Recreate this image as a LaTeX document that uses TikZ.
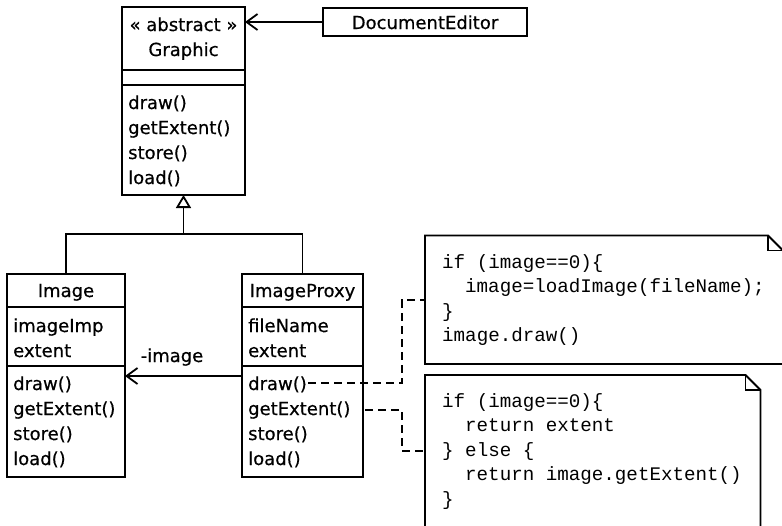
\documentclass[tikz,border=0pt]{standalone}
\usepackage{fontspec}
\setmainfont{DejaVu Sans}[FakeBold=0.6]
\newfontfamily\codefont{Liberation Mono}
\usetikzlibrary{arrows.meta}

% one line of text inside a class box
\newcommand{\classline}[4]{\node[txt] (#1) at (#2,#3) {#4};}
\newcommand{\codeline}[4]{\node[code] (#1) at (#2,#3) {#4};}

\begin{document}
\begin{tikzpicture}[x=1pt,y=-1pt,
  box/.style={draw, line width=1.8pt, rectangle, inner sep=0pt, outer sep=0pt, anchor=north west},
  sep/.style={line width=1.8pt},
  txt/.style={inner sep=0pt, font=\fontsize{18}{25}\selectfont, anchor=base west},
  ctxt/.style={txt, anchor=base},
  code/.style={inner sep=0pt, font=\codefont\fontsize{19.2}{24}\selectfont, anchor=base west},
  notebox/.style={inner sep=0pt, outer sep=0pt, anchor=north west},
  noteline/.style={line width=1.8pt, line join=miter},
  assoc/.style={line width=1.8pt, -{Straight Barb[length=11pt, width=16pt, line width=1.8pt]}},
  inherit/.style={line width=1.8pt, -{Triangle[open, length=13pt, width=15pt, line width=1.8pt]}},
  dashlink/.style={line width=1.8pt, dash pattern=on 8pt off 5pt}
]
\useasboundingbox (0,0) rectangle (782,525);
\clip (0,0) rectangle (782,525);

% ---- class boxes ----
\node[box, minimum width=123pt, minimum height=188pt] (graphic) at (122,7) {};
\node[box, minimum width=204pt, minimum height=28pt] (doced) at (323,8) {};
\node[box, minimum width=118pt, minimum height=203pt] (image) at (7,274) {};
\node[box, minimum width=121pt, minimum height=203pt] (proxy) at (242,274) {};

% compartments
\draw[sep] ([yshift=-63pt]graphic.north west) -- ([yshift=-63pt]graphic.north east);
\draw[sep] ([yshift=-78pt]graphic.north west) -- ([yshift=-78pt]graphic.north east);
\draw[sep] ([yshift=-33pt]image.north west) -- ([yshift=-33pt]image.north east);
\draw[sep] ([yshift=-92pt]image.north west) -- ([yshift=-92pt]image.north east);
\draw[sep] ([yshift=-33pt]proxy.north west) -- ([yshift=-33pt]proxy.north east);
\draw[sep] ([yshift=-92pt]proxy.north west) -- ([yshift=-92pt]proxy.north east);

% Graphic
\node[ctxt] (gstereo) at (183.5,31) {« abstract »};
\node[ctxt] (gname) at (183.5,56) {Graphic};
\classline{gdraw}{128}{109}{draw()}
\classline{gext}{128}{134}{getExtent()}
\classline{gstore}{128}{159}{store()}
\classline{gload}{128}{184}{load()}

% DocumentEditor
\node[ctxt] (dname) at (425,29) {DocumentEditor};

% Image
\node[ctxt] (iname) at (66,297) {Image};
\classline{iimp}{13}{332}{imageImp}
\classline{iext}{13}{357}{extent}
\classline{idraw}{13}{390}{draw()}
\classline{iget}{13}{415}{getExtent()}
\classline{istore}{13}{440}{store()}
\classline{iload}{13}{465}{load()}

% ImageProxy
\node[ctxt] (pname) at (302.5,297) {ImageProxy};
\classline{pfile}{248}{332}{fileName}
\classline{pext}{248}{357}{extent}
\classline{pdraw}{248}{390}{draw()}
\classline{pget}{248}{415}{getExtent()}
\classline{pstore}{248}{440}{store()}
\classline{pload}{248}{465}{load()}

% ---- notes ----
\node[notebox, minimum width=358pt, minimum height=128.5pt] (note1) at (425,235.5) {};
\node[notebox, minimum width=335.5pt, minimum height=170pt] (note2) at (425,375) {};
\foreach \n in {note1,note2}{
  \draw[noteline] (\n.north west) -- ([xshift=-15pt]\n.north east)
    -- ([yshift=-15pt]\n.north east) -- (\n.south east) -- (\n.south west) -- cycle;
  \draw[noteline] ([xshift=-15pt]\n.north east) -- ([xshift=-15pt,yshift=-15pt]\n.north east)
    -- ([yshift=-15pt]\n.north east);
}

\codeline{a1}{442}{268}{if (image==0)\{}
\codeline{a2}{465}{292.5}{image=loadImage(fileName);}
\codeline{a3}{442}{317}{\}}
\codeline{a4}{442}{341.5}{image.draw()}

\codeline{b1}{442}{407}{if (image==0)\{}
\codeline{b2}{465}{431.5}{return extent}
\codeline{b3}{442}{456}{\} else \{}
\codeline{b4}{465}{480.5}{return image.getExtent()}
\codeline{b5}{442}{505}{\}}

% ---- connectors ----
\draw[assoc] (doced.west) -- (graphic.east |- doced.west);

\coordinate (junc) at (graphic.south |- 0,234);
\draw[sep] (image.north) |- (junc);
\draw[sep] (proxy.north) |- (junc);
\draw[inherit] (junc) -- (graphic.south);

\coordinate (aline) at (0,376);
\draw[assoc] (proxy.west |- aline) -- (image.east |- aline);
\node[ctxt] (role) at (172,362) {-image};

\coordinate (k1) at (402,300);
\coordinate (k2) at (402,451);
\coordinate (d1) at (0,383);
\draw[dashlink] ([xshift=1pt]pdraw.east |- d1) -| (k1) -- (note1.west |- k1);
\draw[dashlink] ([xshift=2pt]proxy.east |- pget.east) -| (k2) -- (note2.west |- k2);
\end{tikzpicture}
\end{document}
